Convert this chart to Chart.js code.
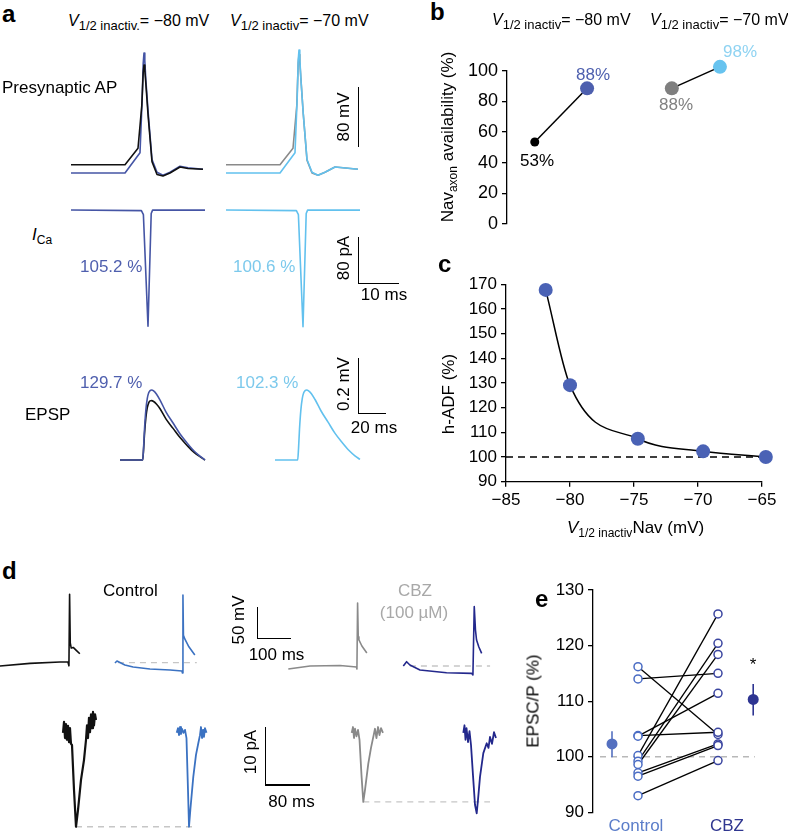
<!DOCTYPE html>
<html>
<head>
<meta charset="utf-8">
<title>Nav inactivation figure</title>
<script src="https://cdn.jsdelivr.net/npm/chart.js@4.4.1/dist/chart.umd.min.js"></script>
<style>
  body { margin: 0; background: #fff; }
  #fig { position: relative; width: 788px; height: 833px; overflow: hidden;
         font-family: "Liberation Sans", Arial, Helvetica, sans-serif; color: #000; }
  #fig canvas { position: absolute; }
  .t { position: absolute; font-size: 17px; line-height: 1; white-space: nowrap; }
  .h { font-size: 16px; }
  .p { font-weight: bold; font-size: 24px; }
  .c { transform: translateX(-50%); }
  .r { transform: translate(-50%, -50%) rotate(-90deg); }
  .t sub { font-size: 12px; vertical-align: -4px; line-height: 0; }
  .h sub { font-size: 13px; }
  .bar { position: absolute; background: #000; }
</style>
</head>
<body>
<div id="fig">
  <!-- panel a traces -->
  <canvas id="apL" width="160" height="150" style="left:59px;top:38px"></canvas>
  <canvas id="apR" width="160" height="150" style="left:214px;top:38px"></canvas>
  <canvas id="icaL" width="160" height="138" style="left:59px;top:198px"></canvas>
  <canvas id="icaR" width="160" height="138" style="left:214px;top:198px"></canvas>
  <canvas id="epspL" width="98" height="98" style="left:113px;top:376px"></canvas>
  <canvas id="epspR" width="98" height="98" style="left:268px;top:376px"></canvas>
  <!-- panel b, c -->
  <canvas id="chartB" width="345" height="210" style="left:440px;top:30px"></canvas>
  <canvas id="chartC" width="348" height="280" style="left:440px;top:270px"></canvas>
  <!-- panel d traces -->
  <canvas id="dTopBlack" width="95" height="100" style="left:-3px;top:585px"></canvas>
  <canvas id="dTopBlue" width="95" height="100" style="left:112px;top:585px"></canvas>
  <canvas id="dTopGrey" width="95" height="100" style="left:285px;top:585px"></canvas>
  <canvas id="dTopNavy" width="95" height="100" style="left:400px;top:585px"></canvas>
  <canvas id="dBotBlack" width="142" height="131" style="left:57px;top:704px"></canvas>
  <canvas id="dBotBlue" width="40" height="131" style="left:171px;top:704px"></canvas>
  <canvas id="dBotGrey" width="146" height="131" style="left:346px;top:704px"></canvas>
  <canvas id="dBotNavy" width="42" height="131" style="left:458px;top:704px"></canvas>
  <!-- panel e -->
  <canvas id="chartE" width="288" height="258" style="left:500px;top:575px"></canvas>

  <!-- scale bars -->
  <div class="bar" style="left:357.5px;top:87px;width:1.5px;height:60px"></div>
  <div class="bar" style="left:357.5px;top:237px;width:1.5px;height:47px"></div>
  <div class="bar" style="left:357.5px;top:282.5px;width:41px;height:1.5px"></div>
  <div class="bar" style="left:357.5px;top:358px;width:1.5px;height:56px"></div>
  <div class="bar" style="left:357.5px;top:412.5px;width:28.5px;height:1.5px"></div>
  <div class="bar" style="left:256.5px;top:607px;width:1.5px;height:32px"></div>
  <div class="bar" style="left:256.5px;top:637.5px;width:34px;height:1.5px"></div>
  <div class="bar" style="left:264.5px;top:727px;width:1.5px;height:58px"></div>
  <div class="bar" style="left:264.5px;top:784px;width:45px;height:1.5px"></div>

  <!-- panel a text -->
  <div class="t p" style="left:2px;top:2px">a</div>
  <div class="t h" style="left:68px;top:13.4px"><i>V</i><sub>1/2 inactiv.</sub>= −80 mV</div>
  <div class="t h" style="left:230px;top:13.4px"><i>V</i><sub>1/2 inactiv</sub>= −70 mV</div>
  <div class="t" style="left:2px;top:78.6px">Presynaptic AP</div>
  <div class="t" style="left:32px;top:225.6px"><i>I</i><sub>Ca</sub></div>
  <div class="t" style="left:80px;top:257.6px;color:#4f5fae">105.2 %</div>
  <div class="t" style="left:233px;top:257.6px;color:#7cc9ec">100.6 %</div>
  <div class="t" style="left:80px;top:373.6px;color:#4f5fae">129.7 %</div>
  <div class="t" style="left:236px;top:373.6px;color:#7cc9ec">102.3 %</div>
  <div class="t" style="left:25px;top:405.6px">EPSP</div>
  <div class="t r" style="left:343px;top:117px">80 mV</div>
  <div class="t r" style="left:343px;top:258px">80 pA</div>
  <div class="t c" style="left:384px;top:285.6px">10 ms</div>
  <div class="t r" style="left:343px;top:384px">0.2 mV</div>
  <div class="t c" style="left:374px;top:418.6px">20 ms</div>

  <!-- panel b text -->
  <div class="t p" style="left:430px;top:0px">b</div>
  <div class="t h" style="left:492px;top:12.4px"><i>V</i><sub>1/2 inactiv</sub>= −80 mV</div>
  <div class="t h" style="left:650px;top:12.4px"><i>V</i><sub>1/2 inactiv</sub>= −70 mV</div>
  <div class="t r" style="left:447px;top:137px">Nav<sub>axon</sub> availability (%)</div>
  <div class="t c" style="left:537px;top:151.6px">53%</div>
  <div class="t c" style="left:593px;top:65.6px;color:#4d5fae">88%</div>
  <div class="t c" style="left:676px;top:95.6px;color:#808080">88%</div>
  <div class="t c" style="left:740px;top:42.6px;color:#8fd3f2">98%</div>

  <!-- panel c text -->
  <div class="t p" style="left:438px;top:251.7px">c</div>
  <div class="t r" style="left:448px;top:394px">h-ADF (%)</div>
  <div class="t" style="left:567px;top:518.6px"><i>V</i><sub>1/2 inactiv</sub>Nav (mV)</div>

  <!-- panel d text -->
  <div class="t p" style="left:2px;top:558.7px">d</div>
  <div class="t" style="left:103px;top:581.6px">Control</div>
  <div class="t c" style="left:415px;top:581.6px;color:#a8a8a8">CBZ</div>
  <div class="t c" style="left:414px;top:603.6px;color:#a8a8a8">(100 µM)</div>
  <div class="t r" style="left:238px;top:620px">50 mV</div>
  <div class="t c" style="left:276.5px;top:645.6px">100 ms</div>
  <div class="t r" style="left:250px;top:752px">10 pA</div>
  <div class="t c" style="left:291.5px;top:792.6px">80 ms</div>

  <!-- panel e text -->
  <div class="t p" style="left:535px;top:587px">e</div>
  <div class="t r" style="left:533px;top:701px">EPSC/P (%)</div>
  <div class="t c" style="left:753px;top:656px">*</div>
  <div class="t c" style="left:636px;top:817px;color:#5b7dc9">Control</div>
  <div class="t c" style="left:727px;top:817px;color:#2f3690">CBZ</div>
</div>

<script>
// ---- panel a: simulated traces (ms, mV / pA) ----
const apTimeBlue = [0, 13.5, 16, 17.25, 17.8, 18.05, 18.25, 18.45, 18.7, 19.3, 20.25, 21.5, 23, 24.75, 27.25, 29.25, 33];
const apBlue80   = [-80, -80, -62, -53, 20, 66, 80, 70, 45, 0, -62, -79, -83, -79, -71, -73, -75];
const apLight70  = [-80, -80, -62, -53, 20, 70, 84, 74, 47, 0, -62, -79, -83, -79, -72, -73, -75];
const apTimeBlack = [0, 13.5, 16.75, 17.7, 18.05, 18.25, 18.45, 18.7, 19.3, 20.25, 21.5, 23, 24.75, 27.25, 29.25, 33];
const apBlack80   = [-69, -69, -47, 10, 54, 64, 57, 40, -5, -65, -82, -84, -80, -72, -74, -75];
const apGrey70    = [-69, -69, -47, 10, 66, 78, 68, 48, 0, -63, -80, -83, -79, -72, -73, -75];

const icaTime    = [0, 17.6, 18.1, 19.25, 20.05, 20.4, 33.5];
const icaBlue80  = [0, -1, -8, -202, -6, 0, 0];
const icaLight70 = [0, -1, -8, -203, -6, 0, 0];

const epspTime    = [0, 16.2, 16.8, 17.5, 18.5, 19.5, 20.5, 21.5, 22.6, 24, 26, 28.6, 32.9, 37.9, 42.9, 47.9, 52.9, 57.1, 60.7];
const epspBlue80  = [0, 0, 0.04, 0.11, 0.18, 0.22, 0.24, 0.248, 0.25, 0.247, 0.236, 0.214, 0.171, 0.132, 0.093, 0.061, 0.032, 0.014, 0];
const epspBlack80 = [0, 0, 0.034, 0.093, 0.152, 0.187, 0.204, 0.211, 0.212, 0.209, 0.2, 0.183, 0.146, 0.113, 0.08, 0.052, 0.027, 0.012, 0];
const epspLight70 = [0, 0, 0.04, 0.11, 0.18, 0.22, 0.24, 0.248, 0.25, 0.247, 0.237, 0.216, 0.175, 0.135, 0.095, 0.063, 0.034, 0.015, 0.002];

// ---- panel b: Nav availability ----
const availX = [1, 2, 3.62, 4.54];
const availVals = [53.5, 88.5, 88.5, 102.5];
const availColors = ['#000000', '#4d5fae', '#7f7f7f', '#67c3ef'];

// ---- panel c: h-ADF vs V1/2 ----
const v12 = [-81.9, -80, -74.7, -69.6, -64.7];
const hADF = [167.7, 129.1, 107.4, 102.3, 100];

// ---- panel d: example recordings (ms, mV / pA) ----
const dTopBlackT = [0, 91, 182, 206, 209, 211, 213, 216, 222, 232, 242];
const dTopBlackV = [-76.3, -72.1, -70, -70, -76, 37, -40, -48, -47, -52, -57];
const dTopBlueT = [0, 6, 30, 55, 106, 167, 203, 204.5, 206, 207.5, 212, 224, 242];
const dTopBlueV = [-71.6, -68.4, -74.7, -77.9, -81.1, -82.6, -84.2, -87.4, 35.8, -28, -34, -46, -59];
const dTopGreyT = [1, 67, 158, 207.5, 209, 211, 213, 215, 224, 239];
const dTopGreyV = [-81.1, -76.3, -75.5, -77.9, -81.1, 23.2, -30, -35.2, -44.7, -55.8];
const dTopNavyT = [1, 11, 21, 51.5, 132, 208, 212, 216, 219.7, 223, 230, 238.5];
const dTopNavyV = [-76.3, -69.5, -74.7, -82.6, -86.9, -87.9, -90.5, 17.4, -19.4, -35.2, -46.3, -56.3];

const epscBlackT = [0, 1.8, 3.6, 5.3, 7.1, 8.9, 10.7, 12.4, 14.2, 16, 19.6, 23.1, 26.7, 32, 37.3, 40.9, 42.7, 44.4, 46.2, 48, 49.8, 51.6, 53.3, 55.1, 56.9, 58.7];
const epscBlackV = [-1, 0.9, -1.9, 0.5, -2.2, 0.2, -2.6, -0.2, -2.9, -3.1, -10.9, -17.2, -14.3, -9.1, -5.7, -2.2, 0.3, -1.9, 1.6, -0.9, 2.2, -0.2, 2.6, 0.3, 2.2, 1.2];
const epscBlueT = [0, 2.3, 4.1, 5.9, 7.6, 9.4, 12.1, 14.8, 17.4, 20.1, 21.9, 24.5, 29.5, 34.3, 38.4, 41.4, 43.2, 45, 46.8, 48.5, 50.3, 53];
const epscBlueV = [-1, -0.2, -1.4, 0, -1.2, -0.3, -1, -0.5, -1.9, -10.9, -17.2, -14, -8.6, -4.8, -2.8, -1.4, 0, -1.9, -0.5, -1.7, -0.2, -1];
const epscGreyT = [0, 2.3, 4.1, 5.9, 8.5, 11.2, 13.9, 17.4, 20.6, 23.6, 29.5, 34.3, 38.4, 41.4, 44, 46.8, 49.4, 52.1, 55.6];
const epscGreyV = [-1, 0, -1.9, -0.3, -1.6, -0.5, -2.2, -8.3, -12.9, -10.9, -6.3, -3.6, -1.7, -0.3, -1.9, 0, -1.4, -0.2, -1];
const epscNavyT = [0, 2.1, 3.9, 5.7, 8.4, 11, 13.7, 17.2, 20.8, 23.8, 26.1, 29.7, 35.6, 41.6, 44.8, 47.5, 51, 54.6, 58.1];
const epscNavyV = [-1, 0.3, -2.2, -0.2, -2.6, -0.7, -3.1, -8.3, -13.4, -14.9, -12.6, -8.6, -4.5, -2.8, -3.6, -1.7, -2.9, -0.9, -1.9];

// ---- panel e: EPSC/P pairs ----
const groups = ['Control', 'CBZ'];
const groupX = [1, 2];
const ctrlVals = [116.2, 114.0, 103.8, 103.7, 100.2, 99.2, 98.6, 97.1, 96.5, 93.0];
const cbzVals  = [104.0, 115.0, 104.4, 111.4, 125.7, 120.4, 118.4, 102.3, 102.0, 99.3];
const meanX = [0.675, 2.44];
const meanVals = [102.3, 110.3];
const semLow = [99.9, 107.4];
const semHigh = [104.6, 113.1];

// colours
const BLACK = '#111111', BLUE80 = '#4555a5', LIGHT = '#62c1ee', GREY = '#8a8a8a';
const DBLUE = '#3b72c2', NAVY = '#23288c', DASH = '#c6c6c6';

Chart.defaults.font.family = '"Liberation Sans", Arial, sans-serif';
Chart.defaults.color = '#000';

const pts = (xs, ys) => xs.map((x, i) => ({ x: x, y: ys[i] }));
const minus = v => String(v).replace('-', '\u2212');

// lines later in the list are drawn on top
function trace(id, xRange, yRange, lines) {
  return new Chart(document.getElementById(id), {
    type: 'line',
    data: {
      datasets: lines.map((l, i) => ({
        data: pts(l.t, l.v),
        borderColor: l.color,
        borderWidth: l.width || 1.6,
        borderDash: l.dash || [],
        borderJoinStyle: 'round',
        cubicInterpolationMode: l.smooth ? 'monotone' : 'default',
        tension: 0, pointRadius: 0, fill: false, clip: false,
        order: lines.length - i
      }))
    },
    options: {
      responsive: false, animation: false, events: [],
      layout: { padding: 0 },
      plugins: { legend: { display: false }, tooltip: { enabled: false } },
      scales: {
        x: { type: 'linear', display: false, min: xRange[0], max: xRange[1] },
        y: { type: 'linear', display: false, min: yRange[0], max: yRange[1] }
      }
    }
  });
}

// panel a
trace('apL', [-3, 37], [-100, 100], [
  { t: apTimeBlue, v: apBlue80, color: BLUE80 },
  { t: apTimeBlack, v: apBlack80, color: BLACK }
]);
trace('apR', [-3, 37], [-100, 100], [
  { t: apTimeBlack, v: apGrey70, color: GREY },
  { t: apTimeBlue, v: apLight70, color: LIGHT }
]);
trace('icaL', [-3, 37], [-219, 21], [{ t: icaTime, v: icaBlue80, color: BLUE80 }]);
trace('icaR', [-3, 37], [-219, 21], [{ t: icaTime, v: icaLight70, color: LIGHT }]);
trace('epspL', [-5, 65], [-0.05, 0.3], [
  { t: epspTime, v: epspBlack80, color: BLACK, smooth: true },
  { t: epspTime, v: epspBlue80, color: BLUE80, smooth: true }
]);
trace('epspR', [-5, 65], [-0.05, 0.3], [{ t: epspTime, v: epspLight70, color: LIGHT, smooth: true }]);

// panel d
const topX = [-9, 278.9], topY = [-106.3, 51.6];
trace('dTopBlack', topX, topY, [{ t: dTopBlackT, v: dTopBlackV, color: BLACK }]);
trace('dTopBlue', topX, topY, [
  { t: [9, 248], v: [-71, -71], color: DASH, dash: [6, 5], width: 1.3 },
  { t: dTopBlueT, v: dTopBlueV, color: DBLUE }
]);
trace('dTopGrey', topX, topY, [{ t: dTopGreyT, v: dTopGreyV, color: GREY }]);
trace('dTopNavy', topX, topY, [
  { t: [21, 264], v: [-76.3, -76.3], color: DASH, dash: [6, 5], width: 1.3 },
  { t: dTopNavyT, v: dTopNavyV, color: NAVY }
]);
const botY = [-18.62, 3.97];
trace('dBotBlack', [-10.67, 241.8], botY, [
  { t: [23.1, 234.7], v: [-17.2, -17.2], color: DASH, dash: [6, 5], width: 1.3 },
  { t: epscBlackT, v: epscBlackV, color: BLACK, width: 2.2 }
]);
trace('dBotBlue', [-10.13, 61], botY, [{ t: epscBlueT, v: epscBlueV, color: DBLUE, width: 1.8 }]);
trace('dBotGrey', [-10.13, 249.4], botY, [
  { t: [20.6, 245.9], v: [-12.9, -12.9], color: DASH, dash: [6, 5], width: 1.3 },
  { t: epscGreyT, v: epscGreyV, color: GREY, width: 1.8 }
]);
trace('dBotNavy', [-9.42, 65.25], botY, [{ t: epscNavyT, v: epscNavyV, color: NAVY, width: 1.8 }]);

// shared axis styling for b, c, e
function yAxis(min, max, step, size, width) {
  return {
    type: 'linear', min: min, max: max,
    ticks: { stepSize: step, font: { size: size }, padding: 4, callback: minus },
    grid: { drawOnChartArea: false, color: '#000', lineWidth: 1.3, tickLength: 5 },
    border: { color: '#000', width: 1.3 },
    afterFit: s => { s.width = width; }
  };
}
const baseOpts = { responsive: false, animation: false, events: [],
  plugins: { legend: { display: false }, tooltip: { enabled: false } } };

// panel b
new Chart(document.getElementById('chartB'), {
  type: 'scatter',
  data: { datasets: [
    { data: pts(availX, availVals), backgroundColor: availColors, pointRadius: [4.5, 7, 7, 7],
      borderWidth: 0, clip: false, order: 0 },
    { type: 'line', data: pts(availX.slice(0, 2), availVals.slice(0, 2)), borderColor: '#000',
      borderWidth: 1.5, pointRadius: 0, clip: false, order: 1 },
    { type: 'line', data: pts(availX.slice(2), availVals.slice(2)), borderColor: '#000',
      borderWidth: 1.5, pointRadius: 0, clip: false, order: 1 }
  ] },
  options: Object.assign({}, baseOpts, {
    layout: { padding: { top: 40.7, bottom: 16, left: 0, right: 5 } },
    scales: {
      x: { type: 'linear', display: false, min: 0.469, max: 5.65 },
      y: yAxis(0, 100, 20, 18, 67)
    }
  })
});

// panel c
new Chart(document.getElementById('chartC'), {
  type: 'scatter',
  data: { datasets: [
    { data: pts(v12, hADF), backgroundColor: '#4a62b5', pointRadius: 7, borderWidth: 0,
      clip: false, order: 0 },
    { type: 'line', data: pts(v12, hADF), borderColor: '#000', borderWidth: 1.5, pointRadius: 0,
      cubicInterpolationMode: 'monotone', clip: false, order: 1 },
    { type: 'line', data: [{ x: -85, y: 100 }, { x: -64.7, y: 100 }], borderColor: '#000',
      borderWidth: 1.5, borderDash: [7, 5], pointRadius: 0, clip: false, order: 2 }
  ] },
  options: Object.assign({}, baseOpts, {
    layout: { padding: { top: 12, bottom: 0, left: 0, right: 26 } },
    scales: {
      x: { type: 'linear', min: -85, max: -65,
        ticks: { stepSize: 5, font: { size: 17 }, padding: 3, callback: minus },
        grid: { drawOnChartArea: false, color: '#000', lineWidth: 1.3, tickLength: 5 },
        border: { color: '#000', width: 1.3 },
        afterFit: s => { s.height = 68.3; } },
      y: yAxis(90, 170, 10, 17, 66)
    }
  })
});

// panel e
const pairSets = ctrlVals.map((v, i) => ({
  type: 'line', data: pts(groupX, [v, cbzVals[i]]), borderColor: '#000', borderWidth: 1.3,
  pointRadius: 0, clip: false, order: 3
}));
new Chart(document.getElementById('chartE'), {
  type: 'scatter',
  data: { datasets: [
    { label: groups[0], data: ctrlVals.map(v => ({ x: groupX[0], y: v })), pointRadius: 4,
      backgroundColor: '#fff', borderColor: '#4a6cc4', borderWidth: 1.5, clip: false, order: 0 },
    { label: groups[1], data: cbzVals.map(v => ({ x: groupX[1], y: v })), pointRadius: 4,
      backgroundColor: '#fff', borderColor: '#3a45a0', borderWidth: 1.5, clip: false, order: 0 },
    { data: pts(meanX, meanVals), pointRadius: 5.5, backgroundColor: ['#5470c0', '#2e3592'],
      borderWidth: 0, clip: false, order: 0 },
    { type: 'line', data: pts([meanX[0], meanX[0]], [semLow[0], semHigh[0]]), borderColor: '#5470c0',
      borderWidth: 1.6, pointRadius: 0, clip: false, order: 1 },
    { type: 'line', data: pts([meanX[1], meanX[1]], [semLow[1], semHigh[1]]), borderColor: '#2e3592',
      borderWidth: 1.6, pointRadius: 0, clip: false, order: 1 },
    ...pairSets,
    { type: 'line', data: [{ x: 0.525, y: 100 }, { x: 2.46, y: 100 }], borderColor: '#b8b8b8',
      borderWidth: 1.5, borderDash: [6, 5], pointRadius: 0, clip: false, order: 4 }
  ] },
  options: Object.assign({}, baseOpts, {
    layout: { padding: { top: 15, bottom: 20.7, left: 0, right: 18 } },
    scales: {
      x: { type: 'linear', display: false, min: 0.4375, max: 2.65 },
      y: yAxis(90, 130, 10, 17, 93)
    }
  })
});
</script>
</body>
</html>
